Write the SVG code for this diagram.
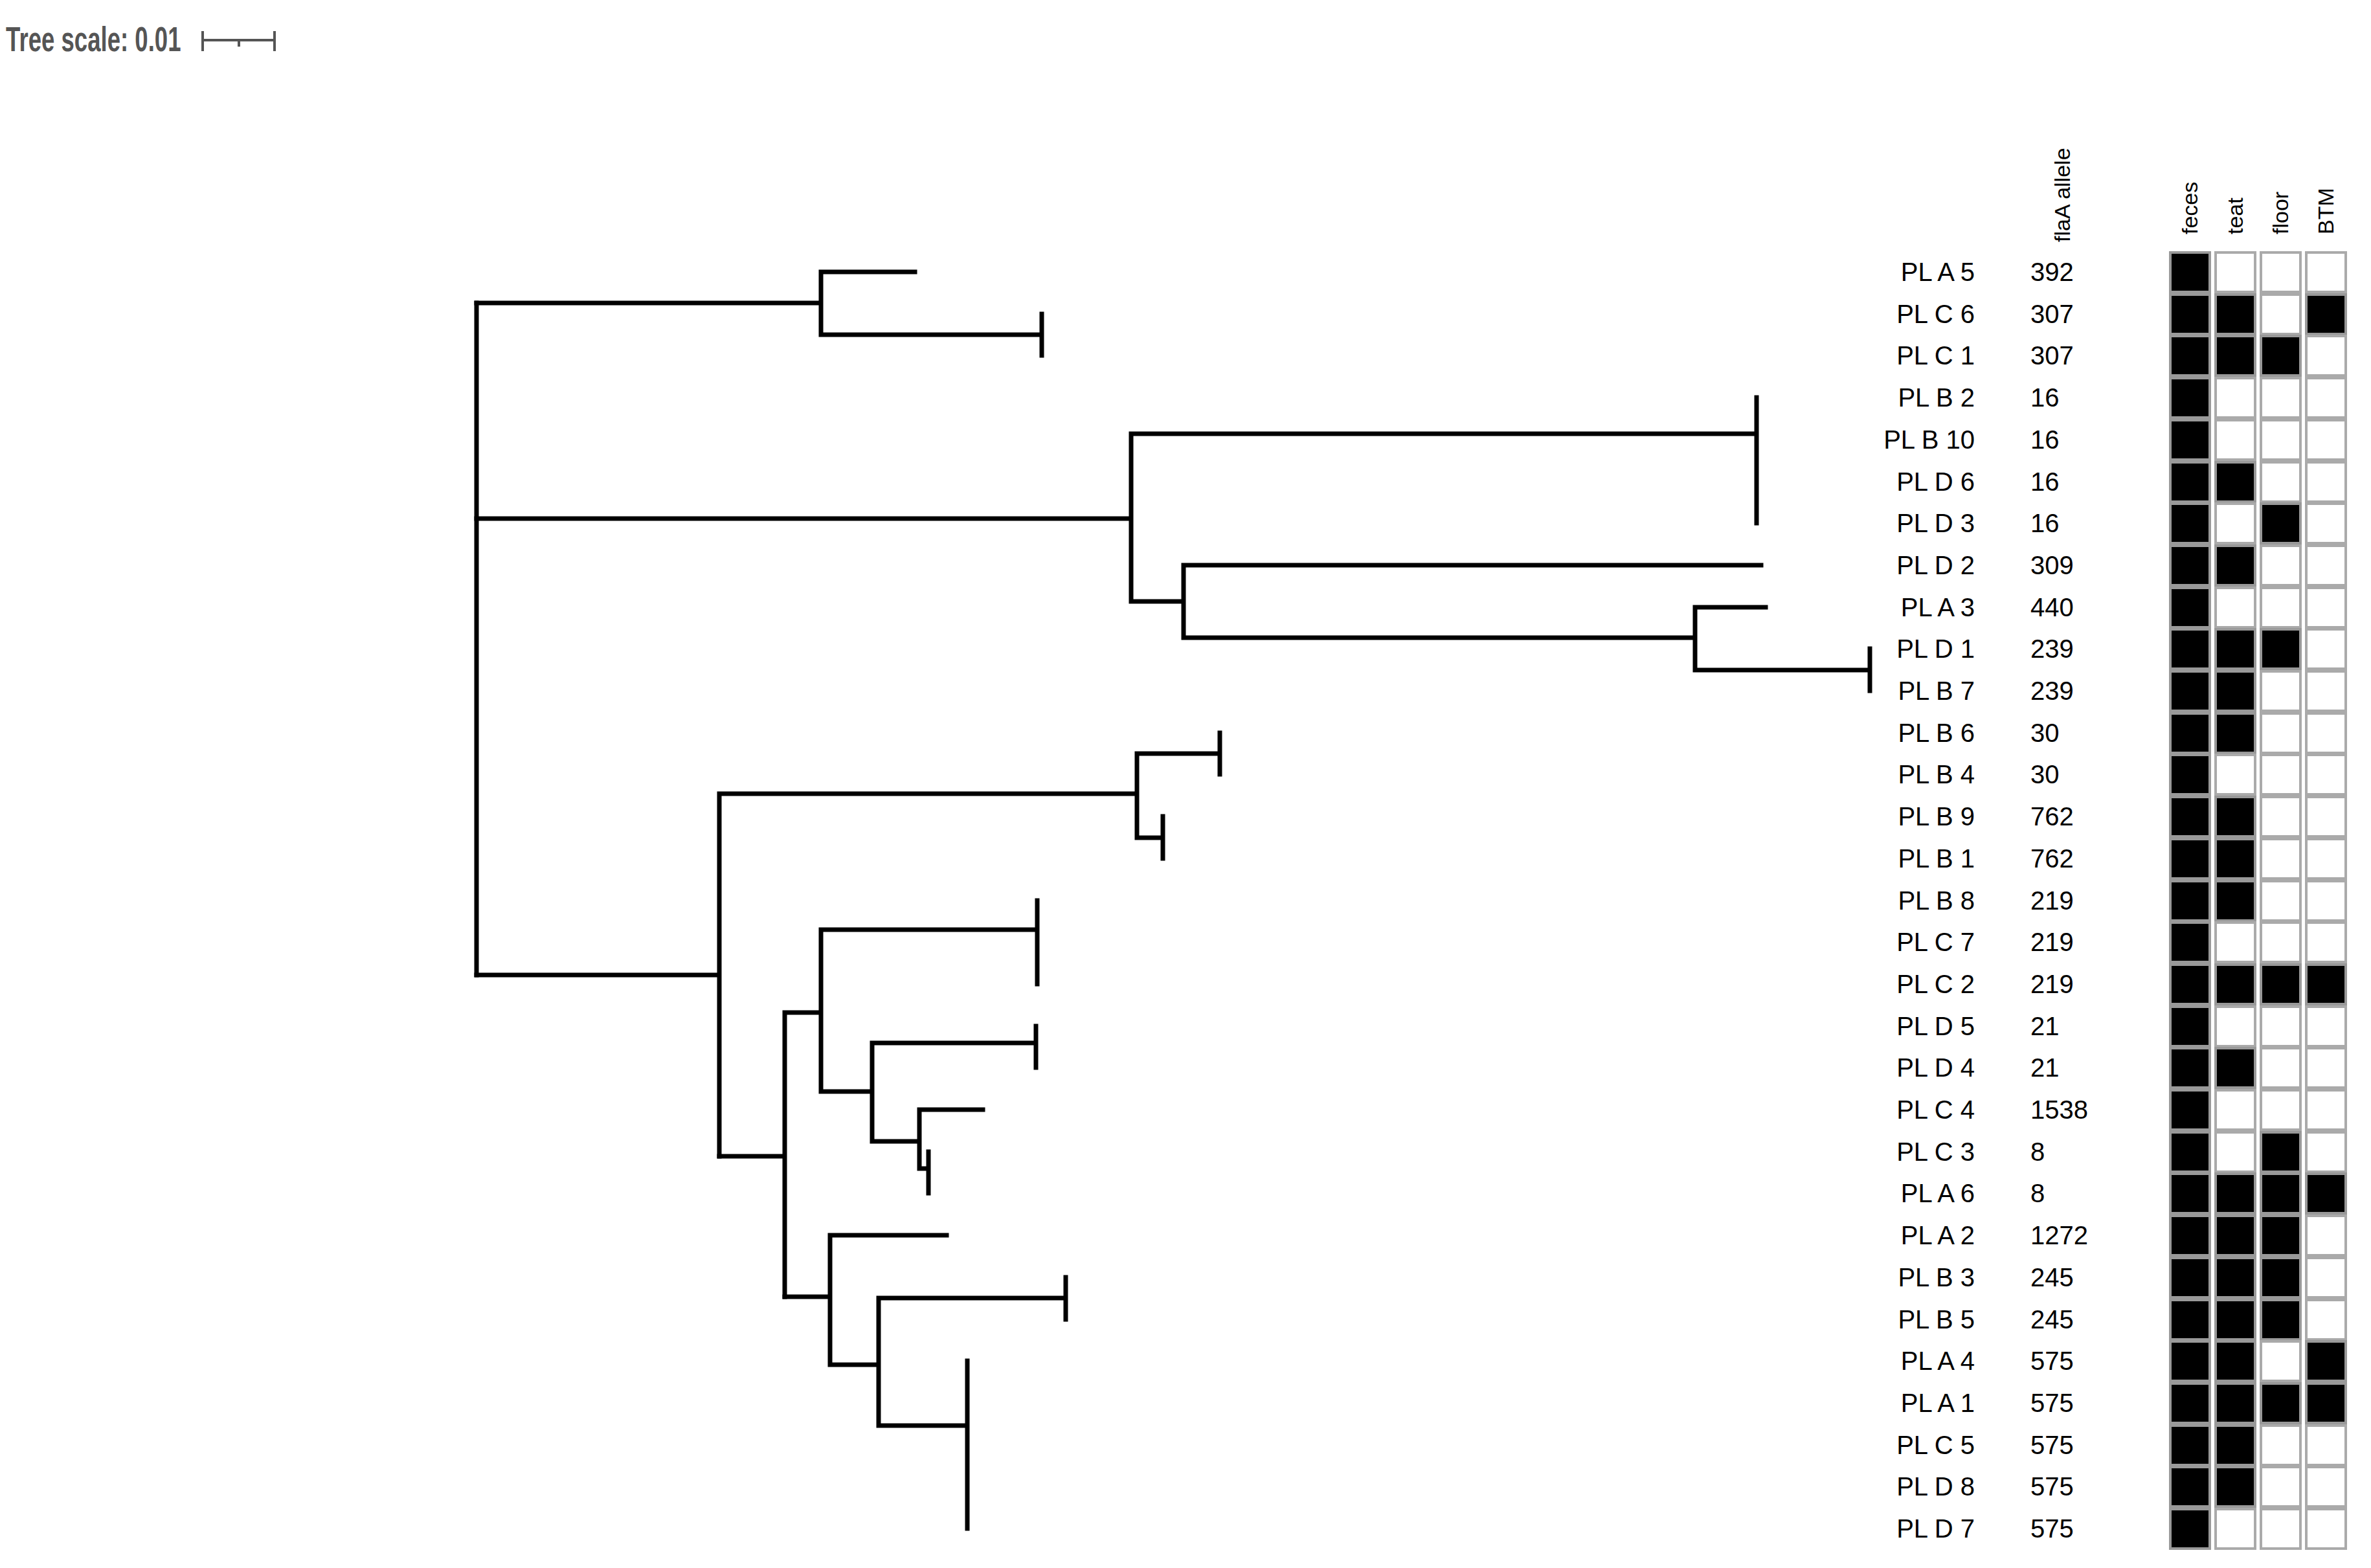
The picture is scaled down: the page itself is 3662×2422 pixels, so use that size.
<svg xmlns="http://www.w3.org/2000/svg" width="3662" height="2422" viewBox="0 0 3662 2422">
<style>
.t{font-family:"Liberation Sans",Arial,sans-serif;font-size:40px;fill:#000}
.h{font-family:"Liberation Sans",Arial,sans-serif;font-size:34px;fill:#000}
.br{stroke:#000;stroke-width:7;fill:none;stroke-linecap:square}
.b{fill:#000;stroke:#999;stroke-width:4}
.w{fill:#fff;stroke:#aaa;stroke-width:4}
</style>
<rect width="3662" height="2422" fill="#fff"/>
<g id="scale">
<text x="14" y="79" font-family="Liberation Sans,Arial,sans-serif" font-size="54" font-weight="bold" fill="#555" textLength="416" lengthAdjust="spacingAndGlyphs" transform="scale(0.65,1)">Tree scale: 0.01</text>
<path d="M313 62H424M313 48V79M424 48V79M369 62V72" stroke="#555" stroke-width="4" fill="none"/>
</g>
<g id="tree" class="br">
<path d="M736 468V1506"/>
<path d="M736 468H1268M1268 420V517M1268 420H1413M1268 517H1609M1609 485V549"/>
<path d="M736 801H1747M1747 670V929M1747 670H2713M2713 614V808M1747 929H1828M1828 873V985M1828 873H2720M1828 985H2618M2618 938V1035M2618 938H2727M2618 1035H2888M2888 1002V1067"/>
<path d="M736 1506H1111M1111 1226V1786M1111 1226H1756M1756 1164V1294M1756 1164H1884M1884 1132V1196M1756 1294H1796M1796 1261V1326"/>
<path d="M1111 1786H1212M1212 1564V2003M1212 1564H1268M1268 1436V1686M1268 1436H1602M1602 1391V1520M1268 1686H1347M1347 1611V1763M1347 1611H1600M1600 1585V1649M1347 1763H1420M1420 1714V1805M1420 1714H1518M1420 1805H1434M1434 1779V1843"/>
<path d="M1212 2003H1282M1282 1908V2108M1282 1908H1462M1282 2108H1357M1357 2005V2202M1357 2005H1646M1646 1973V2038M1357 2202H1494M1494 2102V2361"/>
</g>
<g id="headers">
<text class="h" font-size="30" transform="translate(3197,374) rotate(-90)">flaA allele</text>
<text class="h" transform="translate(3394,362) rotate(-90)">feces</text>
<text class="h" transform="translate(3464,362) rotate(-90)">teat</text>
<text class="h" transform="translate(3534,362) rotate(-90)">floor</text>
<text class="h" transform="translate(3604,362) rotate(-90)">BTM</text>
</g>
<g id="labels" class="t">
<g text-anchor="end">
<text x="3050" y="434">PL A 5</text><text x="3050" y="499">PL C 6</text><text x="3050" y="563">PL C 1</text><text x="3050" y="628">PL B 2</text><text x="3050" y="693">PL B 10</text><text x="3050" y="758">PL D 6</text><text x="3050" y="822">PL D 3</text><text x="3050" y="887">PL D 2</text><text x="3050" y="952">PL A 3</text><text x="3050" y="1016">PL D 1</text><text x="3050" y="1081">PL B 7</text><text x="3050" y="1146">PL B 6</text><text x="3050" y="1210">PL B 4</text><text x="3050" y="1275">PL B 9</text><text x="3050" y="1340">PL B 1</text><text x="3050" y="1405">PL B 8</text><text x="3050" y="1469">PL C 7</text><text x="3050" y="1534">PL C 2</text><text x="3050" y="1599">PL D 5</text><text x="3050" y="1663">PL D 4</text><text x="3050" y="1728">PL C 4</text><text x="3050" y="1793">PL C 3</text><text x="3050" y="1857">PL A 6</text><text x="3050" y="1922">PL A 2</text><text x="3050" y="1987">PL B 3</text><text x="3050" y="2052">PL B 5</text><text x="3050" y="2116">PL A 4</text><text x="3050" y="2181">PL A 1</text><text x="3050" y="2246">PL C 5</text><text x="3050" y="2310">PL D 8</text><text x="3050" y="2375">PL D 7</text>
</g>
<g>
<text x="3136" y="434">392</text><text x="3136" y="499">307</text><text x="3136" y="563">307</text><text x="3136" y="628">16</text><text x="3136" y="693">16</text><text x="3136" y="758">16</text><text x="3136" y="822">16</text><text x="3136" y="887">309</text><text x="3136" y="952">440</text><text x="3136" y="1016">239</text><text x="3136" y="1081">239</text><text x="3136" y="1146">30</text><text x="3136" y="1210">30</text><text x="3136" y="1275">762</text><text x="3136" y="1340">762</text><text x="3136" y="1405">219</text><text x="3136" y="1469">219</text><text x="3136" y="1534">219</text><text x="3136" y="1599">21</text><text x="3136" y="1663">21</text><text x="3136" y="1728">1538</text><text x="3136" y="1793">8</text><text x="3136" y="1857">8</text><text x="3136" y="1922">1272</text><text x="3136" y="1987">245</text><text x="3136" y="2052">245</text><text x="3136" y="2116">575</text><text x="3136" y="2181">575</text><text x="3136" y="2246">575</text><text x="3136" y="2310">575</text><text x="3136" y="2375">575</text>
</g>
</g>
<g id="grid">
<rect class="b" x="3352" y="390" width="61" height="61"/><rect class="w" x="3422" y="390" width="61" height="61"/><rect class="w" x="3492" y="390" width="61" height="61"/><rect class="w" x="3562" y="390" width="61" height="61"/>
<rect class="b" x="3352" y="455" width="61" height="61"/><rect class="b" x="3422" y="455" width="61" height="61"/><rect class="w" x="3492" y="455" width="61" height="61"/><rect class="b" x="3562" y="455" width="61" height="61"/>
<rect class="b" x="3352" y="519" width="61" height="61"/><rect class="b" x="3422" y="519" width="61" height="61"/><rect class="b" x="3492" y="519" width="61" height="61"/><rect class="w" x="3562" y="519" width="61" height="61"/>
<rect class="b" x="3352" y="584" width="61" height="61"/><rect class="w" x="3422" y="584" width="61" height="61"/><rect class="w" x="3492" y="584" width="61" height="61"/><rect class="w" x="3562" y="584" width="61" height="61"/>
<rect class="b" x="3352" y="649" width="61" height="61"/><rect class="w" x="3422" y="649" width="61" height="61"/><rect class="w" x="3492" y="649" width="61" height="61"/><rect class="w" x="3562" y="649" width="61" height="61"/>
<rect class="b" x="3352" y="714" width="61" height="61"/><rect class="b" x="3422" y="714" width="61" height="61"/><rect class="w" x="3492" y="714" width="61" height="61"/><rect class="w" x="3562" y="714" width="61" height="61"/>
<rect class="b" x="3352" y="778" width="61" height="61"/><rect class="w" x="3422" y="778" width="61" height="61"/><rect class="b" x="3492" y="778" width="61" height="61"/><rect class="w" x="3562" y="778" width="61" height="61"/>
<rect class="b" x="3352" y="843" width="61" height="61"/><rect class="b" x="3422" y="843" width="61" height="61"/><rect class="w" x="3492" y="843" width="61" height="61"/><rect class="w" x="3562" y="843" width="61" height="61"/>
<rect class="b" x="3352" y="908" width="61" height="61"/><rect class="w" x="3422" y="908" width="61" height="61"/><rect class="w" x="3492" y="908" width="61" height="61"/><rect class="w" x="3562" y="908" width="61" height="61"/>
<rect class="b" x="3352" y="972" width="61" height="61"/><rect class="b" x="3422" y="972" width="61" height="61"/><rect class="b" x="3492" y="972" width="61" height="61"/><rect class="w" x="3562" y="972" width="61" height="61"/>
<rect class="b" x="3352" y="1037" width="61" height="61"/><rect class="b" x="3422" y="1037" width="61" height="61"/><rect class="w" x="3492" y="1037" width="61" height="61"/><rect class="w" x="3562" y="1037" width="61" height="61"/>
<rect class="b" x="3352" y="1102" width="61" height="61"/><rect class="b" x="3422" y="1102" width="61" height="61"/><rect class="w" x="3492" y="1102" width="61" height="61"/><rect class="w" x="3562" y="1102" width="61" height="61"/>
<rect class="b" x="3352" y="1166" width="61" height="61"/><rect class="w" x="3422" y="1166" width="61" height="61"/><rect class="w" x="3492" y="1166" width="61" height="61"/><rect class="w" x="3562" y="1166" width="61" height="61"/>
<rect class="b" x="3352" y="1231" width="61" height="61"/><rect class="b" x="3422" y="1231" width="61" height="61"/><rect class="w" x="3492" y="1231" width="61" height="61"/><rect class="w" x="3562" y="1231" width="61" height="61"/>
<rect class="b" x="3352" y="1296" width="61" height="61"/><rect class="b" x="3422" y="1296" width="61" height="61"/><rect class="w" x="3492" y="1296" width="61" height="61"/><rect class="w" x="3562" y="1296" width="61" height="61"/>
<rect class="b" x="3352" y="1361" width="61" height="61"/><rect class="b" x="3422" y="1361" width="61" height="61"/><rect class="w" x="3492" y="1361" width="61" height="61"/><rect class="w" x="3562" y="1361" width="61" height="61"/>
<rect class="b" x="3352" y="1425" width="61" height="61"/><rect class="w" x="3422" y="1425" width="61" height="61"/><rect class="w" x="3492" y="1425" width="61" height="61"/><rect class="w" x="3562" y="1425" width="61" height="61"/>
<rect class="b" x="3352" y="1490" width="61" height="61"/><rect class="b" x="3422" y="1490" width="61" height="61"/><rect class="b" x="3492" y="1490" width="61" height="61"/><rect class="b" x="3562" y="1490" width="61" height="61"/>
<rect class="b" x="3352" y="1555" width="61" height="61"/><rect class="w" x="3422" y="1555" width="61" height="61"/><rect class="w" x="3492" y="1555" width="61" height="61"/><rect class="w" x="3562" y="1555" width="61" height="61"/>
<rect class="b" x="3352" y="1619" width="61" height="61"/><rect class="b" x="3422" y="1619" width="61" height="61"/><rect class="w" x="3492" y="1619" width="61" height="61"/><rect class="w" x="3562" y="1619" width="61" height="61"/>
<rect class="b" x="3352" y="1684" width="61" height="61"/><rect class="w" x="3422" y="1684" width="61" height="61"/><rect class="w" x="3492" y="1684" width="61" height="61"/><rect class="w" x="3562" y="1684" width="61" height="61"/>
<rect class="b" x="3352" y="1749" width="61" height="61"/><rect class="w" x="3422" y="1749" width="61" height="61"/><rect class="b" x="3492" y="1749" width="61" height="61"/><rect class="w" x="3562" y="1749" width="61" height="61"/>
<rect class="b" x="3352" y="1813" width="61" height="61"/><rect class="b" x="3422" y="1813" width="61" height="61"/><rect class="b" x="3492" y="1813" width="61" height="61"/><rect class="b" x="3562" y="1813" width="61" height="61"/>
<rect class="b" x="3352" y="1878" width="61" height="61"/><rect class="b" x="3422" y="1878" width="61" height="61"/><rect class="b" x="3492" y="1878" width="61" height="61"/><rect class="w" x="3562" y="1878" width="61" height="61"/>
<rect class="b" x="3352" y="1943" width="61" height="61"/><rect class="b" x="3422" y="1943" width="61" height="61"/><rect class="b" x="3492" y="1943" width="61" height="61"/><rect class="w" x="3562" y="1943" width="61" height="61"/>
<rect class="b" x="3352" y="2008" width="61" height="61"/><rect class="b" x="3422" y="2008" width="61" height="61"/><rect class="b" x="3492" y="2008" width="61" height="61"/><rect class="w" x="3562" y="2008" width="61" height="61"/>
<rect class="b" x="3352" y="2072" width="61" height="61"/><rect class="b" x="3422" y="2072" width="61" height="61"/><rect class="w" x="3492" y="2072" width="61" height="61"/><rect class="b" x="3562" y="2072" width="61" height="61"/>
<rect class="b" x="3352" y="2137" width="61" height="61"/><rect class="b" x="3422" y="2137" width="61" height="61"/><rect class="b" x="3492" y="2137" width="61" height="61"/><rect class="b" x="3562" y="2137" width="61" height="61"/>
<rect class="b" x="3352" y="2202" width="61" height="61"/><rect class="b" x="3422" y="2202" width="61" height="61"/><rect class="w" x="3492" y="2202" width="61" height="61"/><rect class="w" x="3562" y="2202" width="61" height="61"/>
<rect class="b" x="3352" y="2266" width="61" height="61"/><rect class="b" x="3422" y="2266" width="61" height="61"/><rect class="w" x="3492" y="2266" width="61" height="61"/><rect class="w" x="3562" y="2266" width="61" height="61"/>
<rect class="b" x="3352" y="2331" width="61" height="61"/><rect class="w" x="3422" y="2331" width="61" height="61"/><rect class="w" x="3492" y="2331" width="61" height="61"/><rect class="w" x="3562" y="2331" width="61" height="61"/>
</g>
</svg>
